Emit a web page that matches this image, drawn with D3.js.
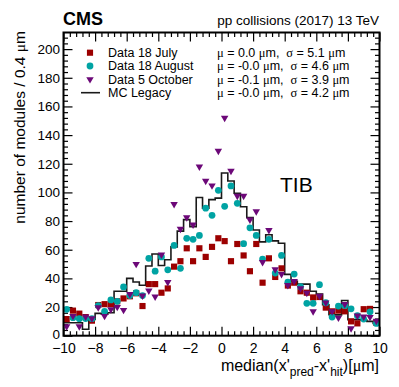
<!DOCTYPE html>
<html>
<head>
<meta charset="utf-8">
<script src="https://cdn.jsdelivr.net/npm/d3@7"></script>
<style>
  body { margin: 0; background: #fff; }
  text { font-family: "Liberation Sans", Arial, Helvetica, sans-serif; fill: #000; }
  .greek { font-family: "Liberation Serif", "DejaVu Serif", serif; }
</style>
</head>
<body>
<script>
// --- data: 50 bins of 0.4 um from -10 to 10 ---
const xMin = -10, xMax = 10, binWidth = 0.4;

const july = [11.6, 17.5, 15.4, 13, 10.5, 21.4, 22, 22, 24, 26,
              27.5, 29.6, 20.7, 36, 36, 30, 33, 48.2, 52, 61,
              52, 61, 55, 62, 68, 66, 52, 64, 56, 45,
              64, 37, 54, 41, 47, 35, 37, 31, 30, 26.7,
              27, 19.6, 17, 17.5, 17, 10, 8.6, 18.5, 18.7, 9];

const august = [18.4, 12.6, 11.9, 12, 11.9, 21, 17, 25, 24, 34,
                28, 30, 28, 54, 45, 55, 46, 63, 47, 68,
                67.3, 70, 89, 84, 101.5, 90.3, 104.5, 92.4, 64.2, 75.3,
                70, 53.5, 67.3, 43.7, 56, 37.3, 43, 34.2, 22.6, 22.6,
                35.6, 23, 13, 20.7, 21, 18.8, 14, 11.6, 16.7, 8.6];

const october = [6.5, 13.7, 6.5, 13.3, 12, 19.8, 13.7, 18.4, 20, 17.9,
                 29, 50, 28, 31.4, 27.2, 56.5, 37.3, 91.8, 74.5, 82.6,
                 77.5, 118, 108, 104.8, 129, 152, 115, 97.5, 97.5, 81,
                 86.7, 51.3, 73.7, 46.3, 43, 35.2, 38, 33, 29.8, 17,
                 27.7, 23, 17, 12.5, 22, 5.1, 14, 13.3, 13, 10.3];

const mcLegacy = [9, 9, 9, 4.5, 11.4, 15.6, 15, 16, 31, 31,
                  40, 37.5, 35.2, 48.6, 57, 49, 53, 62, 73, 81,
                  76, 96.5, 89, 95, 96, 113.5, 108, 99.4, 90, 82.4,
                  73.8, 65.5, 70.5, 66.2, 64.5, 42.8, 38, 36, 36, 31,
                  29, 21.6, 14.7, 14.5, 24.6, 11.2, 11.2, 11, 10, 8.6];

const legendLabels = ["Data 18 July", "Data 18 August", "Data 5 October", "MC Legacy"];
const meanLabels = ["0.0", "-0.0", "-0.1", "-0.0"];
const sigmaLabels = ["5.1", "4.6", "3.9", "4.2"];

const xMajorTicks = d3.range(-10, 10.001, 2);
const yMajorTicks = d3.range(0, 201, 20);

// --- layout ---
const W = 399, H = 387;
const frame = {left: 63.5, right: 379.5, top: 32.5, bottom: 335.7};
const yMax = 211.6;

const svg = d3.select("body").append("svg")
    .attr("width", W)
    .attr("height", H);

const x = d3.scaleLinear().domain([xMin, xMax]).range([frame.left, frame.right]);
const y = d3.scaleLinear().domain([0, yMax]).range([frame.bottom, frame.top]);

const centers = d3.range(july.length).map(i => xMin + binWidth * (i + 0.5));
const edges = d3.range(july.length).map(i => xMin + binWidth * i);

const colors = {july: "#9c0000", august: "#00a3a3", october: "#6c0878"};

// --- axes (ticks drawn inward, mirrored on top and right) ---
const majorLen = 9, minorLen = 4.5;
const xMinor = d3.range(-10, 10.001, 0.4).filter(v => Math.abs(v / 2 - Math.round(v / 2)) > 1e-6);
const yMinor = d3.range(0, yMax, 4).filter(v => v % 20 !== 0);

function styleAxis(g) {
  g.select(".domain").remove();
  g.selectAll("line").attr("stroke", "#000").attr("stroke-width", 1.2);
}

svg.append("g")
    .attr("transform", `translate(0,${frame.bottom})`)
    .call(d3.axisBottom(x).tickValues(xMajorTicks).tickSize(-majorLen).tickPadding(7)
      .tickFormat(d => d < 0 ? "\u2212" + Math.abs(d) : d))
    .call(styleAxis)
    .call(g => g.selectAll("text").attr("font-size", 14).attr("font-family", null));
svg.append("g")
    .attr("transform", `translate(0,${frame.bottom})`)
    .call(d3.axisBottom(x).tickValues(xMinor).tickSize(-minorLen).tickFormat(""))
    .call(styleAxis);
svg.append("g")
    .attr("transform", `translate(0,${frame.top})`)
    .call(d3.axisTop(x).tickValues(xMajorTicks).tickSize(-majorLen).tickFormat(""))
    .call(styleAxis);
svg.append("g")
    .attr("transform", `translate(0,${frame.top})`)
    .call(d3.axisTop(x).tickValues(xMinor).tickSize(-minorLen).tickFormat(""))
    .call(styleAxis);

svg.append("g")
    .attr("transform", `translate(${frame.left},0)`)
    .call(d3.axisLeft(y).tickValues(yMajorTicks).tickSize(-majorLen).tickPadding(3.5))
    .call(styleAxis)
    .call(g => g.selectAll("text").attr("font-size", 13.5).attr("font-family", null)
      .attr("dy", d => d === 0 ? "0.2em" : "0.32em"));
svg.append("g")
    .attr("transform", `translate(${frame.left},0)`)
    .call(d3.axisLeft(y).tickValues(yMinor).tickSize(-minorLen).tickFormat(""))
    .call(styleAxis);
svg.append("g")
    .attr("transform", `translate(${frame.right},0)`)
    .call(d3.axisRight(y).tickValues(yMajorTicks).tickSize(-majorLen).tickFormat(""))
    .call(styleAxis);
svg.append("g")
    .attr("transform", `translate(${frame.right},0)`)
    .call(d3.axisRight(y).tickValues(yMinor).tickSize(-minorLen).tickFormat(""))
    .call(styleAxis);

// --- MC histogram ---
const stepLine = d3.line()
    .x(d => x(d[0]))
    .y(d => y(d[1]))
    .curve(d3.curveStepAfter);
const histPts = mcLegacy.map((v, i) => [edges[i], v]);
histPts.push([xMax, mcLegacy[mcLegacy.length - 1]]);
svg.append("path")
    .datum(histPts)
    .attr("d", stepLine)
    .attr("fill", "none")
    .attr("stroke", "#1a1a1a")
    .attr("stroke-width", 1.6);

// --- data markers ---
const square = d3.symbol().type(d3.symbolSquare).size(38);
const circle = d3.symbol().type(d3.symbolCircle).size(36);
const triangle = d3.symbol().type(d3.symbolTriangle).size(24);

function drawSeries(values, sym, color, rotate) {
  svg.append("g").selectAll("path")
    .data(values)
    .join("path")
      .attr("d", sym)
      .attr("transform", (d, i) => `translate(${x(centers[i])},${y(d)})` + (rotate ? " rotate(180)" : ""))
      .attr("fill", color);
}
drawSeries(july, square, colors.july, false);
drawSeries(august, circle, colors.august, false);
drawSeries(october, triangle, colors.october, true);

// --- frame ---
svg.append("rect")
    .attr("x", frame.left).attr("y", frame.top)
    .attr("width", frame.right - frame.left)
    .attr("height", frame.bottom - frame.top)
    .attr("fill", "none")
    .attr("stroke", "#000")
    .attr("stroke-width", 2);

// --- legend ---
const rowBase = [57, 70.3, 83.6, 97];
const legendMarks = [
  {sym: square, color: colors.july},
  {sym: circle, color: colors.august},
  {sym: triangle, color: colors.october, rotate: true}
];
legendMarks.forEach((m, i) => {
  svg.append("path")
    .attr("d", m.sym)
    .attr("transform", `translate(90,${rowBase[i] - 4.3})` + (m.rotate ? " rotate(180)" : ""))
    .attr("fill", m.color);
});
svg.append("line")
    .attr("x1", 81).attr("x2", 100)
    .attr("y1", rowBase[3] - 4.3).attr("y2", rowBase[3] - 4.3)
    .attr("stroke", "#1a1a1a").attr("stroke-width", 1.6);

legendLabels.forEach((t, i) => {
  svg.append("text")
    .attr("x", 108).attr("y", rowBase[i])
    .attr("font-size", 12.5)
    .text(t);
  const s = svg.append("text")
    .attr("x", 217).attr("y", rowBase[i])
    .attr("font-size", 12.5)
    .attr("xml:space", "preserve");
  s.append("tspan").attr("class", "greek").text("\u03bc");
  s.append("tspan").text(` = ${meanLabels[i]} `);
  s.append("tspan").attr("class", "greek").text("\u03bc");
  s.append("tspan").text("m,  ");
  s.append("tspan").attr("class", "greek").text("\u03c3");
  s.append("tspan").text(` = ${sigmaLabels[i]} `);
  s.append("tspan").attr("class", "greek").text("\u03bc");
  s.append("tspan").text("m");
});

// --- titles ---
svg.append("text")
    .attr("x", 63).attr("y", 25)
    .attr("font-size", 18).attr("font-weight", "bold")
    .text("CMS");
svg.append("text")
    .attr("x", 379).attr("y", 25)
    .attr("text-anchor", "end")
    .attr("font-size", 13.5)
    .text("pp collisions (2017) 13 TeV");

svg.append("text")
    .attr("x", 280).attr("y", 192)
    .attr("font-size", 21)
    .text("TIB");

const yTitle = svg.append("text")
    .attr("transform", "translate(25,31) rotate(-90)")
    .attr("text-anchor", "end")
    .attr("font-size", 15.5);
yTitle.append("tspan").text("number of modules / 0.4 ");
yTitle.append("tspan").attr("class", "greek").text("\u03bc");
yTitle.append("tspan").text("m");

const xTitle = svg.append("text")
    .attr("x", 379).attr("y", 371)
    .attr("text-anchor", "end")
    .attr("font-size", 16);
xTitle.append("tspan").text("median(x'");
xTitle.append("tspan").attr("font-size", 12).attr("dy", 5).text("pred");
xTitle.append("tspan").attr("dy", -5).text("-x'");
xTitle.append("tspan").attr("font-size", 12).attr("dy", 5).text("hit");
xTitle.append("tspan").attr("dy", -5).text(")[");
xTitle.append("tspan").attr("class", "greek").text("\u03bc");
xTitle.append("tspan").text("m]");
</script>
</body>
</html>
